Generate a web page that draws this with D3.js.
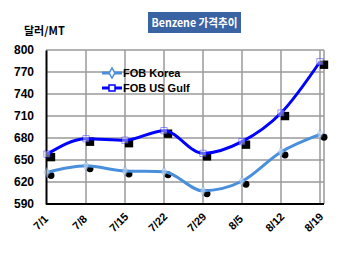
<!DOCTYPE html>
<html><head><meta charset="utf-8">
<script src="https://cdn.jsdelivr.net/npm/d3@7"></script>
<style>body{margin:0;background:#fff}svg{display:block}</style>
</head><body>
<script>
const categories = ["7/1","7/8","7/15","7/22","7/29","8/5","8/12","8/19"];
const korea = [633, 642, 635, 634, 608, 621, 661, 685];
const usGulf = [658, 679, 677, 690, 659, 675, 714, 784];
const yTicks = [590, 620, 650, 680, 710, 740, 770, 800];
const seriesNames = ["FOB Korea", "FOB US Gulf"];

const W = 350, H = 253;
const svg = d3.select("body").append("svg").attr("width", W).attr("height", H);
const font = "Arial, 'Liberation Sans', sans-serif";

const x = d3.scalePoint().domain(categories).range([47, 320]);
const y = d3.scaleLinear().domain([590, 800]).range([204, 50]);
const left = 46, right = 324;

// gridlines
const g = svg.append("g");
g.selectAll("line.h").data(yTicks).join("line")
  .attr("x1", left).attr("x2", right).attr("y1", d => y(d)).attr("y2", d => y(d))
  .attr("stroke", "#9a9a9a").attr("stroke-width", 1.5);
g.selectAll("line.v").data(categories.slice(1)).join("line")
  .attr("x1", d => x(d)).attr("x2", d => x(d)).attr("y1", 50).attr("y2", 204)
  .attr("stroke", "#9a9a9a").attr("stroke-width", 1.5);
g.append("line").attr("x1", right).attr("x2", right).attr("y1", 50).attr("y2", 204)
  .attr("stroke", "#9a9a9a").attr("stroke-width", 1.5);

// axes
const yAxis = d3.axisLeft(y).tickValues(yTicks).tickSize(0).tickPadding(12);
const ya = svg.append("g").attr("transform", `translate(${left},0)`).call(yAxis);
ya.select(".domain").attr("stroke", "#000").attr("stroke-width", 2);
ya.selectAll("text").attr("font-family", font).attr("font-size", 12).attr("font-weight", "bold").attr("fill", "#000");

const xAxis = d3.axisBottom(x).tickSize(0).tickPadding(0);
const xa = svg.append("g").attr("transform", `translate(0,204)`).call(xAxis);
xa.select(".domain").attr("d", `M${left},0H${right}`).attr("stroke", "#000").attr("stroke-width", 2);
xa.selectAll("text").attr("font-family", font).attr("font-size", 11).attr("font-weight", "bold").attr("fill", "#000")
  .attr("text-anchor", "middle").attr("y", 0).attr("dy", 0)
  .attr("transform", "translate(-4,21) rotate(-45)");

// series
const series = [
  {name: seriesNames[0], values: korea, color: "#4a8fdc", shape: d3.symbolDiamond},
  {name: seriesNames[1], values: usGulf, color: "#0000ff", shape: d3.symbolSquare}
];
const line = d3.line().x((d, i) => x(categories[i])).y(d => y(d)).curve(d3.curveMonotoneX);

series.forEach(s => {
  // shadow markers
  svg.append("g").selectAll("path").data(s.values).join("path")
    .attr("d", d3.symbol().type(s.shape === d3.symbolSquare ? d3.symbolSquare : d3.symbolCircle).size(s.shape === d3.symbolSquare ? 70 : 38))
    .attr("transform", (d, i) => `translate(${x(categories[i]) + 4},${y(d) + 3})`)
    .attr("fill", "#000");
  svg.append("path").datum(s.values).attr("d", line)
    .attr("fill", "none").attr("stroke", s.color).attr("stroke-width", 3);
  svg.append("g").selectAll("path").data(s.values).join("path")
    .attr("d", d3.symbol().type(s.shape).size(s.shape === d3.symbolSquare ? 40 : 30))
    .attr("transform", (d, i) => `translate(${x(categories[i])},${y(d)})`)
    .attr("fill", "#ffffff").attr("fill-opacity", 0.4).attr("stroke", s.color).attr("stroke-width", 1).attr("stroke-opacity", 0.4);
});

// legend
series.forEach((s, i) => {
  const ly = 73 + i * 15;
  svg.append("line").attr("x1", 102).attr("x2", 122).attr("y1", ly).attr("y2", ly)
    .attr("stroke", s.color).attr("stroke-width", 3);
  svg.append("path").attr("d", d3.symbol().type(s.shape).size(s.shape === d3.symbolSquare ? 36 : 30))
    .attr("transform", `translate(112,${ly})`).attr("fill", "#fff").attr("stroke", s.color).attr("stroke-width", 1.5);
  svg.append("text").attr("x", 123).attr("y", ly + 4).text(s.name)
    .attr("font-family", font).attr("font-size", 11).attr("font-weight", "bold").attr("fill", "#000");
});

// title
svg.append("rect").attr("x", 148).attr("y", 12).attr("width", 93).attr("height", 21).attr("fill", "#3a63a4");
svg.append("text").attr("x", 194.5).attr("y", 27).attr("text-anchor", "middle").text("Benzene 가격추이")
  .attr("textLength", 86).attr("lengthAdjust", "spacingAndGlyphs")
  .attr("font-family", "'Noto Sans CJK KR', sans-serif").attr("font-size", 11.5).attr("font-weight", "bold").attr("fill", "#fff");

// unit
svg.append("text").attr("x", 24).attr("y", 35).text("달러/MT")
  .attr("font-family", "'Noto Sans CJK KR', sans-serif").attr("font-size", 11).attr("font-weight", "bold").attr("fill", "#000");
</script>
</body></html>
